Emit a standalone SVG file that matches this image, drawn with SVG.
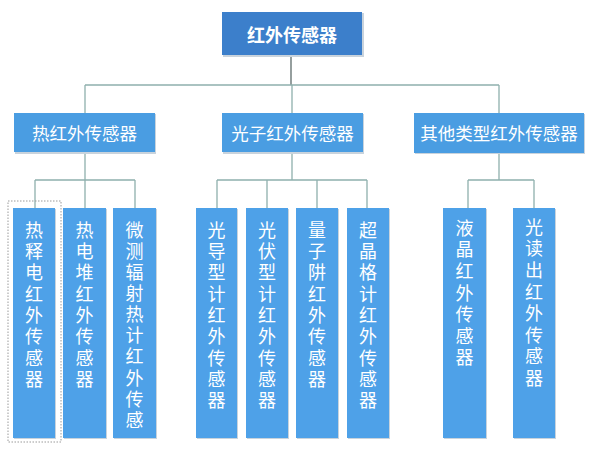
<svg xmlns="http://www.w3.org/2000/svg" width="592" height="455" viewBox="0 0 592 455">
<style>
text{font-family:"Noto Sans CJK SC","Noto Sans CJK JP",sans-serif;fill:#ffffff;text-anchor:middle;dominant-baseline:central}
.top{fill:#3c7fcb}
.mid{fill:#4a9de2}
.leaf{fill:#4ea1e8}
.sh{fill:#c9d3dc}
.t1{font-size:18px;font-weight:bold}
.t2{font-size:17.5px}
.v{font-size:18px;writing-mode:vertical-rl;text-anchor:start;letter-spacing:3.3px}
.ln{stroke:#8fb0ad;stroke-width:1.3;fill:none}
</style>
<rect width="592" height="455" fill="#ffffff"/>
<g id="connectors">
<path class="ln" style="stroke:#5d6b6a" d="M291 55V85"/>
<path class="ln" d="M85 85H499M85 85V113M292 85V113M499 85V113"/>
<path class="ln" d="M85 152V180M35 180H135M35 180V208M85 180V208M135 180V208"/>
<path class="ln" d="M292 152V180M217 180H367M217 180V208M267 180V208M317 180V208M367 180V208"/>
<path class="ln" d="M499 153V180M468 180H534M468 180V208M534 180V208"/>
</g>
<g id="n0"><rect class="sh" x="223" y="13" width="141" height="44"/><rect class="top" x="222" y="12" width="140" height="43"/><text class="t1" x="292" y="34">红外传感器</text></g>
<g id="n1"><rect class="sh" x="15" y="114" width="141" height="40"/><rect class="mid" x="14" y="113" width="141" height="39"/><text class="t2" x="84.5" y="132">热红外传感器</text></g>
<g id="n2"><rect class="sh" x="223" y="114" width="141" height="40"/><rect class="mid" x="222" y="113" width="141" height="39"/><text class="t2" x="292.5" y="132">光子红外传感器</text></g>
<g id="n3"><rect class="sh" x="415" y="114" width="170" height="40"/><rect class="mid" x="414" y="113" width="170" height="40"/><text class="t2" x="499" y="132.5">其他类型红外传感器</text></g>
<rect x="8" y="201" width="53" height="241" fill="none" stroke="#9a9a9a" stroke-width="1" stroke-dasharray="1.5,1.5"/>
<g id="l1"><rect class="sh" x="14" y="209" width="42" height="230"/><rect class="leaf" x="13" y="208" width="42" height="230"/><text class="v" x="34" y="221">热释电红外传感器</text></g>
<g id="l2"><rect class="sh" x="64" y="209" width="43" height="230"/><rect class="leaf" x="63" y="208" width="43" height="230"/><text class="v" x="84.5" y="221">热电堆红外传感器</text></g>
<g id="l3"><rect class="sh" x="114" y="209" width="43" height="230"/><rect class="leaf" x="113" y="208" width="43" height="230"/><text class="v" x="134.5" y="221" style="letter-spacing:3.1px">微测辐射热计红外传感</text></g>
<g id="l4"><rect class="sh" x="197" y="209" width="41" height="230"/><rect class="leaf" x="196" y="208" width="41" height="230"/><text class="v" x="216.5" y="221">光导型计红外传感器</text></g>
<g id="l5"><rect class="sh" x="247" y="209" width="42" height="230"/><rect class="leaf" x="246" y="208" width="42" height="230"/><text class="v" x="267" y="221">光伏型计红外传感器</text></g>
<g id="l6"><rect class="sh" x="297" y="209" width="42" height="230"/><rect class="leaf" x="296" y="208" width="42" height="230"/><text class="v" x="317" y="221">量子阱红外传感器</text></g>
<g id="l7"><rect class="sh" x="348" y="209" width="42" height="230"/><rect class="leaf" x="347" y="208" width="42" height="230"/><text class="v" x="368" y="221">超晶格计红外传感器</text></g>
<g id="l8"><rect class="sh" x="444" y="209" width="43" height="230"/><rect class="leaf" x="443" y="208" width="43" height="230"/><text class="v" x="464.5" y="219" style="letter-spacing:3.6px">液晶红外传感器</text></g>
<g id="l9"><rect class="sh" x="514" y="209" width="42" height="230"/><rect class="leaf" x="513" y="208" width="42" height="230"/><text class="v" x="534" y="218" style="letter-spacing:3.6px">光读出红外传感器</text></g>
</svg>
